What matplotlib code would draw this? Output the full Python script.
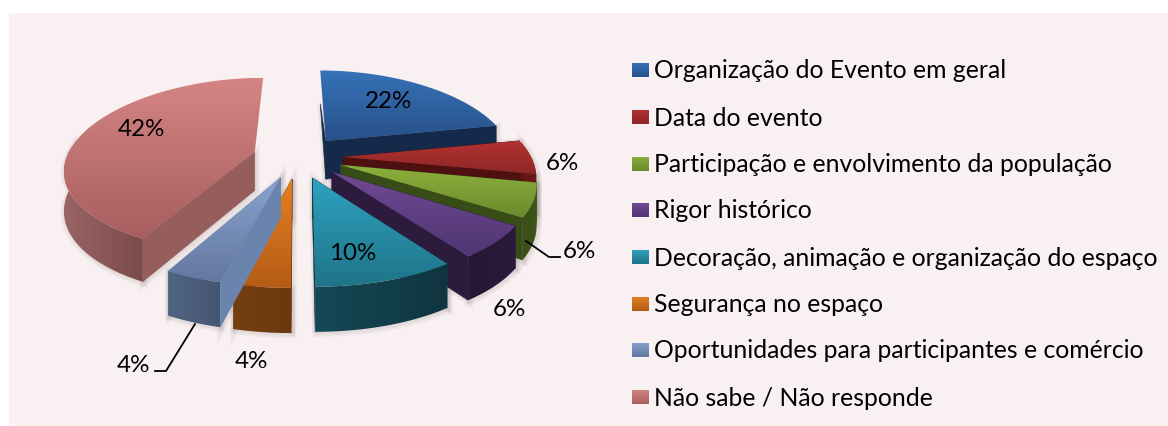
import numpy as np
import matplotlib
matplotlib.use("Agg")
import matplotlib.pyplot as plt
from matplotlib.colors import LinearSegmentedColormap
from matplotlib.patches import Polygon, Rectangle

labels = [
    "Organização do Evento em geral",
    "Data do evento",
    "Participação e envolvimento da população",
    "Rigor histórico",
    "Decoração, animação e organização do espaço",
    "Segurança no espaço",
    "Oportunidades para participantes e comércio",
    "Não sabe / Não responde",
]
values = [22, 6, 6, 6, 10, 4, 4, 42]

# top light, top dark, wall left, wall right, cut face
colors = [
    ("#3672B8", "#285189", "#14294A", "#1A3358", "#15294A"),
    ("#B53131", "#8E2727", "#5E1414", "#6E1A1A", "#4E1010"),
    ("#8CB03C", "#6B8A2E", "#3A4F18", "#3F5519", "#384C17"),
    ("#704A94", "#503673", "#241733", "#2A1B3C", "#2D1B3E"),
    ("#2EA2C0", "#1F7488", "#154856", "#0F3540", "#123845"),
    ("#E67F22", "#B45C15", "#754010", "#6B380E", "#713C10"),
    ("#87A2CF", "#64789F", "#4F6583", "#465672", "#6A84AD"),
    ("#D48483", "#A85F5F", "#9A6564", "#7B4B4A", "#955D5C"),
]

# label text centres and leader lines, in pixels
label_pos = [(388, 101), (562, 164), (579, 251), (509, 309), (353, 254), (251, 361), (133, 365), (141, 129)]
leaders = [[(526, 241), (549, 257), (560, 257)], [(195, 324), (166, 371), (155, 371)]]

EXPLODE = 0.24

W, H = 1168, 426
fig = plt.figure(figsize=(W / 100, H / 100), dpi=100)
ax = fig.add_axes([0, 0, 1, 1])
ax.set_axis_off()
plt.rcParams["font.family"] = ["Lato", "DejaVu Sans"]

ax.add_patch(Rectangle((9, 13), W - 9, H - 13, fc="#F9F0F1", ec="none", zorder=0))


def project(u, v):
    # pie plane to pixels, things nearer the viewer come out bigger
    x = 298 + u * (188 + 36 * v)
    y = 157 + v * (89 + 13.5 * v)
    return x, y


def depth(v):
    return 39 + 5 * v


z = [1]


def gradient(poly, c0, c1, horizontal=False):
    cmap = LinearSegmentedColormap.from_list("g", [c0, c1])
    g = np.linspace(0, 1, 64)
    g = g.reshape(1, -1) if horizontal else g.reshape(-1, 1)
    x0, y0 = poly.min(axis=0)
    x1, y1 = poly.max(axis=0)
    im = ax.imshow(g, cmap=cmap, extent=(x0, x1, y1, y0), aspect="auto", zorder=z[0], interpolation="bilinear")
    patch = Polygon(poly, closed=True, transform=ax.transData, fc="none", ec="none")
    ax.add_patch(patch)
    im.set_clip_path(patch)
    z[0] += 1


def flat(poly, c):
    ax.add_patch(Polygon(poly, closed=True, fc=c, ec=c, lw=0.4, zorder=z[0]))
    z[0] += 1


def shadow(poly):
    # soft grey rim under the whole pie
    for lw in (2, 4, 6):
        ax.add_patch(Polygon(poly + [1, 1], closed=True, fc="none", ec="#6b6060", lw=lw, alpha=0.05, zorder=0.5))


angle = 0.0
for val, col in zip(values, colors):
    a0 = np.radians(angle)
    a1 = np.radians(angle + val * 3.6)
    mid = (a0 + a1) / 2
    angle += val * 3.6
    ou, ov = EXPLODE * np.sin(mid), -EXPLODE * np.cos(mid)

    t = np.linspace(a0, a1, 80)
    u = ou + np.sin(t)
    v = ov - np.cos(t)
    ax_, ay_ = project(u, v)
    arc = np.column_stack([ax_, ay_])
    bottom = np.column_stack([ax_, ay_ + depth(v)])
    apex = np.array(project(ou, ov))
    apex_b = apex + [0, depth(ov)]

    # far cut face first
    faces = [(v[0], arc[0], bottom[0]), (v[-1], arc[-1], bottom[-1])]
    if angle >= 360:
        faces = faces[:1]
    faces.sort(key=lambda f: f[0])
    for fv, p, q in faces:
        # a face at the very back only shows below the apex
        quad = np.array([apex, q, apex_b]) if fv < -0.9 else np.array([apex, p, q, apex_b])
        shadow(quad)
        flat(quad, col[4])

    # the outer wall only faces the viewer on the front part of the arc
    front = (t >= np.radians(80)) & (t <= np.radians(275))
    if front.sum() > 1:
        wall = np.vstack([arc[front], bottom[front][::-1]])
        shadow(wall)
        gradient(wall, col[2], col[3], horizontal=True)
    gradient(np.vstack([apex, arc]), col[0], col[1])

for val, (x, y) in zip(values, label_pos):
    ax.text(x, y, f"{val}%", ha="center", va="center", fontsize=17.4, color="black", zorder=200)

for line in leaders:
    xs, ys = zip(*line)
    ax.plot(xs, ys, color="black", lw=1.3, zorder=200)

row_y = [70, 117, 164, 210, 257, 304, 350, 397]
for name, col, y in zip(labels, colors, row_y):
    square = np.array([(632, y - 7.5), (649, y - 7.5), (649, y + 7.5), (632, y + 7.5)])
    gradient(square, col[0], col[1])
    ax.text(654, y + 1, name, ha="left", va="center", fontsize=17.8, color="black", zorder=200)

ax.set_xlim(0, W)
ax.set_ylim(H, 0)
fig.savefig("out.png", dpi=100)
